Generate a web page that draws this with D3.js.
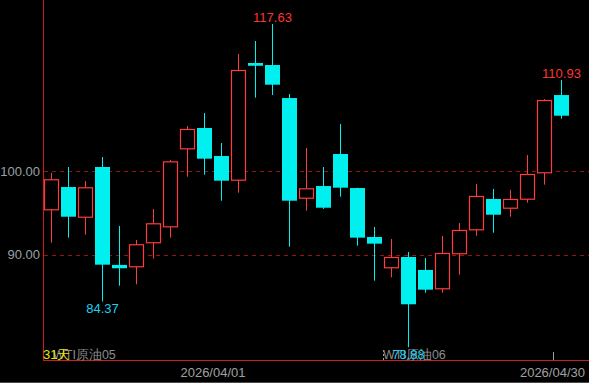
<!DOCTYPE html>
<html><head><meta charset="utf-8">
<script src="https://cdn.jsdelivr.net/npm/d3@7/dist/d3.min.js"></script>
<style>html,body{margin:0;padding:0;background:#000;overflow:hidden}svg{display:block}</style>
</head><body>
<script>
const dates = ["2026/03/18","2026/03/19","2026/03/20","2026/03/23","2026/03/24","2026/03/25","2026/03/26","2026/03/27","2026/03/30","2026/03/31",
"2026/04/01","2026/04/02","2026/04/06","2026/04/07","2026/04/08","2026/04/09","2026/04/10","2026/04/13","2026/04/14","2026/04/15",
"2026/04/16","2026/04/17","2026/04/20","2026/04/21","2026/04/22","2026/04/23","2026/04/24","2026/04/27","2026/04/28","2026/04/29","2026/04/30"];
const opens  = [95.30,98.09,94.41,100.49,88.75,88.47,91.35,93.26,102.61,105.17,101.81,98.85,112.96,112.72,108.76,96.69,98.21,102.05,97.97,92.10,88.35,89.70,88.15,85.83,90.03,92.90,96.66,95.49,96.57,99.74,109.12];
const closes = [99.02,94.53,98.06,88.78,88.35,91.23,93.74,101.17,105.05,101.49,98.85,112.12,112.63,110.36,96.45,97.94,95.61,98.01,92.02,91.30,89.70,84.03,85.78,90.18,92.94,97.02,94.77,96.66,99.65,108.52,106.64];
const highs  = [99.81,100.49,98.81,101.69,93.42,91.74,95.46,101.33,105.41,106.96,103.37,114.04,115.60,117.63,109.24,102.77,100.49,105.65,98.00,93.30,91.86,90.30,89.58,92.22,93.78,98.45,97.86,97.74,101.93,108.64,110.93];
const lows   = [91.42,92.02,92.38,84.37,86.26,86.43,89.50,92.02,99.33,99.57,96.45,97.41,108.80,109.12,90.94,95.25,95.46,96.93,91.06,86.86,87.27,78.88,85.42,85.42,87.58,92.26,92.62,94.53,96.21,98.37,106.28];
const yTicks = [90, 100];
const dateTicks = ["2026/04/01","2026/04/30"];
const contracts = ["WTI原油05","WTI原油06"];
const contractStart = ["2026/03/18","2026/04/16"];
const periodLabel = "31天";

const W = 589, H = 383;
const UP = "#ff3b3b", DOWN = "#00f0f0";
const svg = d3.select("body").append("svg").attr("width", W).attr("height", H);
svg.append("rect").attr("width", W).attr("height", H).attr("fill", "#000");

const x = d3.scaleBand().domain(dates).range([44, 44 + dates.length * 17]).padding(0);
const y = d3.scaleLinear().domain([90, 100]).range([254.5, 171.1]);
const bw = 15;
const data = dates.map((d, i) => ({d, o: opens[i], c: closes[i], h: highs[i], l: lows[i]}));

// grid
svg.selectAll(".grid").data(yTicks).join("line")
  .attr("x1", 44).attr("x2", W).attr("y1", v => Math.round(y(v)) + 0.5).attr("y2", v => Math.round(y(v)) + 0.5)
  .attr("stroke", "#9a1010").attr("stroke-dasharray", "4,4");

// y axis labels
const yAxis = d3.axisLeft(y).tickValues(yTicks).tickFormat(d3.format(".2f")).tickSize(0).tickPadding(0);
const ga = svg.append("g").attr("transform", "translate(40,0)").call(yAxis);
ga.select(".domain").remove();
ga.selectAll("text").attr("fill", "#98a0a8").attr("font-family", "Liberation Sans, Arial, sans-serif").attr("font-size", 13);

// axes lines
svg.append("line").attr("x1", 43.5).attr("x2", 43.5).attr("y1", 0).attr("y2", 361).attr("stroke", "#d01c1c");
svg.append("line").attr("x1", 43).attr("x2", W).attr("y1", 360.5).attr("y2", 360.5).attr("stroke", "#d01c1c");
svg.append("line").attr("x1", 0).attr("x2", W).attr("y1", 382.5).attr("y2", 382.5).attr("stroke", "#4a4a4a");

// candles
const g = svg.append("g");
g.selectAll(".wick").data(data).join("line")
  .attr("x1", d => x(d.d) + 7.5).attr("x2", d => x(d.d) + 7.5)
  .attr("y1", d => y(d.h)).attr("y2", d => y(d.l))
  .attr("stroke", d => d.c >= d.o ? UP : DOWN).attr("stroke-width", 1);
g.selectAll(".up").data(data.filter(d => d.c >= d.o)).join("rect")
  .attr("x", d => x(d.d) + 0.5).attr("width", bw - 1)
  .attr("y", d => y(d.c) + 0.5).attr("height", d => Math.max(1, y(d.o) - y(d.c) - 1))
  .attr("fill", "#000").attr("stroke", UP).attr("stroke-width", 1.2);
g.selectAll(".down").data(data.filter(d => d.c < d.o)).join("rect")
  .attr("x", d => x(d.d)).attr("width", bw)
  .attr("y", d => y(d.o)).attr("height", d => Math.max(2, y(d.c) - y(d.o)))
  .attr("fill", DOWN);

// contract labels and markers
const font = "Liberation Sans, Arial, sans-serif";
svg.append("text").attr("x", 53).attr("y", 359).attr("fill", "#8c8c8c").attr("font-family", font).attr("font-size", 12.5).text(contracts[0]);
svg.append("line").attr("x1", x(contractStart[1]) - 0.5).attr("x2", x(contractStart[1]) - 0.5).attr("y1", 350).attr("y2", 360)
  .attr("stroke", "#a0a0a0").attr("stroke-dasharray", "2,2");
svg.append("text").attr("x", x(contractStart[1]) - 1).attr("y", 359).attr("fill", "#8c8c8c").attr("font-family", font).attr("font-size", 12.5).text(contracts[1]);

// segment high/low labels
const seg1 = dates.indexOf(contractStart[1]);
[[0, seg1], [seg1, dates.length]].forEach(([a, b]) => {
  const s = data.slice(a, b);
  const hi = s.reduce((m, d) => d.h > m.h ? d : m);
  const lo = s.reduce((m, d) => d.l < m.l ? d : m);
  svg.append("text").attr("x", x(hi.d) + 7.5).attr("y", y(hi.h) - 2).attr("text-anchor", "middle")
    .attr("fill", "#ff3535").attr("font-family", font).attr("font-size", 13).text(hi.h.toFixed(2));
  svg.append("text").attr("x", x(lo.d) + 7.5).attr("y", Math.min(y(lo.l) + 12, 359)).attr("text-anchor", "middle")
    .attr("fill", "#1ed0f2").attr("font-family", font).attr("font-size", 13).text(lo.l.toFixed(2));
});

svg.append("text").attr("x", 43).attr("y", 359).attr("fill", "#e8e800").attr("font-family", font).attr("font-size", 13).text(periodLabel);

// date ticks
const last = dateTicks[dateTicks.length - 1];
svg.append("line").attr("x1", x(last) - 0.5).attr("x2", x(last) - 0.5).attr("y1", 352).attr("y2", 360).attr("stroke", "#a0a0a0");
svg.append("text").attr("x", x(dateTicks[0]) - 1).attr("y", 377).attr("text-anchor", "middle")
  .attr("fill", "#a0a0a0").attr("font-family", font).attr("font-size", 13).text(dateTicks[0]);
svg.append("text").attr("x", 585).attr("y", 377).attr("text-anchor", "end")
  .attr("fill", "#a0a0a0").attr("font-family", font).attr("font-size", 13).text(last);
</script>
</body></html>
